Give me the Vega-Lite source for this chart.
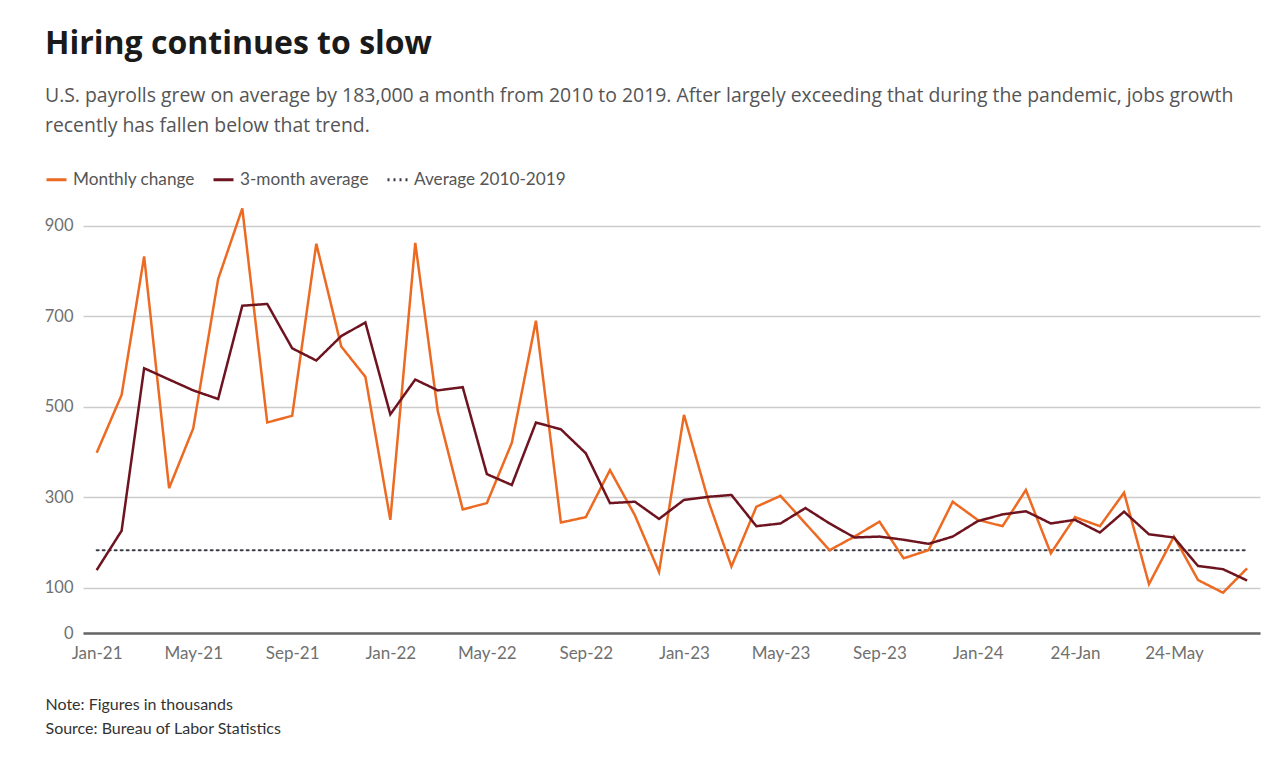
{
  "$schema": "https://vega.github.io/schema/vega-lite/v6.json",
  "width": 1177,
  "height": 430,
  "autosize": {"type": "none"},
  "padding": {"left": 83, "top": 203, "right": 1, "bottom": 145},
  "background": "white",
  "config": {
    "font": "Lato",
    "view": {"stroke": null}
  },
  "title": {
    "text": "Hiring continues to slow",
    "subtitle": ["U.S. payrolls grew on average by 183,000 a month from 2010 to 2019. After largely exceeding that during the pandemic, jobs growth", "recently has fallen below that trend."],
    "anchor": "start",
    "frame": "group",
    "dx": -38,
    "offset": 32,
    "font": "Open Sans",
    "fontSize": 32,
    "fontWeight": "bold",
    "color": "#1a1a1a",
    "subtitleFont": "Open Sans",
    "subtitleFontSize": 19.4,
    "subtitleColor": "#555555",
    "subtitleLineHeight": 30,
    "subtitlePadding": 26
  },
  "datasets": {
    "series": [
      {"date": "2021-01-01", "m": 398, "a": 139},
      {"date": "2021-02-01", "m": 526, "a": 226},
      {"date": "2021-03-01", "m": 832, "a": 585},
      {"date": "2021-04-01", "m": 320, "a": 560},
      {"date": "2021-05-01", "m": 452, "a": 536},
      {"date": "2021-06-01", "m": 782, "a": 517},
      {"date": "2021-07-01", "m": 938, "a": 723},
      {"date": "2021-08-01", "m": 465, "a": 727},
      {"date": "2021-09-01", "m": 480, "a": 629},
      {"date": "2021-10-01", "m": 860, "a": 602},
      {"date": "2021-11-01", "m": 633, "a": 656},
      {"date": "2021-12-01", "m": 566, "a": 686},
      {"date": "2022-01-01", "m": 250, "a": 483},
      {"date": "2022-02-01", "m": 862, "a": 560},
      {"date": "2022-03-01", "m": 490, "a": 536},
      {"date": "2022-04-01", "m": 273, "a": 543},
      {"date": "2022-05-01", "m": 287, "a": 351},
      {"date": "2022-06-01", "m": 420, "a": 327},
      {"date": "2022-07-01", "m": 690, "a": 465},
      {"date": "2022-08-01", "m": 244, "a": 450},
      {"date": "2022-09-01", "m": 256, "a": 397},
      {"date": "2022-10-01", "m": 360, "a": 287},
      {"date": "2022-11-01", "m": 260, "a": 290},
      {"date": "2022-12-01", "m": 135, "a": 252},
      {"date": "2023-01-01", "m": 482, "a": 294},
      {"date": "2023-02-01", "m": 288, "a": 301},
      {"date": "2023-03-01", "m": 147, "a": 305},
      {"date": "2023-04-01", "m": 279, "a": 236},
      {"date": "2023-05-01", "m": 303, "a": 242},
      {"date": "2023-06-01", "m": 242, "a": 276},
      {"date": "2023-07-01", "m": 183, "a": 242},
      {"date": "2023-08-01", "m": 213, "a": 211},
      {"date": "2023-09-01", "m": 246, "a": 213},
      {"date": "2023-10-01", "m": 165, "a": 206},
      {"date": "2023-11-01", "m": 183, "a": 197},
      {"date": "2023-12-01", "m": 290, "a": 213},
      {"date": "2024-01-01", "m": 250, "a": 247},
      {"date": "2024-02-01", "m": 236, "a": 262},
      {"date": "2024-03-01", "m": 316, "a": 269},
      {"date": "2024-04-01", "m": 176, "a": 242},
      {"date": "2024-05-01", "m": 256, "a": 250},
      {"date": "2024-06-01", "m": 236, "a": 222},
      {"date": "2024-07-01", "m": 310, "a": 268},
      {"date": "2024-08-01", "m": 108, "a": 218},
      {"date": "2024-09-01", "m": 213, "a": 211},
      {"date": "2024-10-01", "m": 117, "a": 148},
      {"date": "2024-11-01", "m": 89, "a": 141},
      {"date": "2024-12-01", "m": 143, "a": 116}
    ],
    "avg": [
      {"date": "2021-01-01", "v": 183, "series": "Average 2010-2019"},
      {"date": "2024-12-01", "v": 183, "series": "Average 2010-2019"}
    ]
  },
  "encoding": {
    "x": {
      "field": "date",
      "type": "temporal",
      "scale": {
        "type": "utc",
        "nice": false,
        "domain": [
          {"year": 2020, "month": 12, "date": 15, "utc": true},
          {"year": 2024, "month": 12, "date": 17, "utc": true}
        ]
      },
      "axis": {
        "values": [
          {"year": 2021, "month": 1, "date": 1, "utc": true},
          {"year": 2021, "month": 5, "date": 1, "utc": true},
          {"year": 2021, "month": 9, "date": 1, "utc": true},
          {"year": 2022, "month": 1, "date": 1, "utc": true},
          {"year": 2022, "month": 5, "date": 1, "utc": true},
          {"year": 2022, "month": 9, "date": 1, "utc": true},
          {"year": 2023, "month": 1, "date": 1, "utc": true},
          {"year": 2023, "month": 5, "date": 1, "utc": true},
          {"year": 2023, "month": 9, "date": 1, "utc": true},
          {"year": 2024, "month": 1, "date": 1, "utc": true},
          {"year": 2024, "month": 5, "date": 1, "utc": true},
          {"year": 2024, "month": 9, "date": 1, "utc": true}
        ],
        "labelExpr": "utcFormat(datum.value, '%Y-%m') == '2024-05' ? '24-Jan' : (utcFormat(datum.value, '%Y-%m') == '2024-09' ? '24-May' : utcFormat(datum.value, '%b-%y'))",
        "grid": false,
        "ticks": false,
        "domain": true,
        "domainColor": "#666666",
        "domainWidth": 2.5,
        "labelColor": "#707070",
        "labelFontSize": 17,
        "labelPadding": 12,
        "labelFlush": false,
        "labelOverlap": false,
        "title": ["Note: Figures in thousands", "Source: Bureau of Labor Statistics"],
        "titleAnchor": "start",
        "titleAlign": "left",
        "titleBaseline": "top",
        "titleX": -38,
        "titleY": 63,
        "titleFontSize": 16,
        "titleFontWeight": "normal",
        "titleColor": "#333333",
        "titleLineHeight": 24
      }
    }
  },
  "layer": [
    {
      "data": {"name": "avg"},
      "mark": {"type": "line", "strokeWidth": 2, "strokeCap": "round"},
      "encoding": {
        "y": {"field": "v", "type": "quantitative"},
        "color": {"field": "series", "type": "nominal"},
        "strokeDash": {"field": "series", "type": "nominal"}
      }
    },
    {
      "data": {"name": "series"},
      "transform": [{"calculate": "'Monthly change'", "as": "series"}],
      "mark": {"type": "line", "strokeWidth": 2.5, "strokeJoin": "miter"},
      "encoding": {
        "y": {"field": "m", "type": "quantitative"},
        "color": {"field": "series", "type": "nominal"},
        "strokeDash": {"field": "series", "type": "nominal"}
      }
    },
    {
      "data": {"name": "series"},
      "transform": [{"calculate": "'3-month average'", "as": "series"}],
      "mark": {"type": "line", "strokeWidth": 2.5, "strokeJoin": "miter"},
      "encoding": {
        "y": {
          "field": "a",
          "type": "quantitative",
          "scale": {"domain": [0, 950], "nice": false},
          "axis": {
            "title": null,
            "values": [0, 100, 300, 500, 700, 900],
            "domain": false,
            "ticks": false,
            "grid": true,
            "gridColor": "#cccccc",
            "gridWidth": 1.5,
            "labelColor": "#707070",
            "labelFontSize": 16.5,
            "labelPadding": 10
          }
        },
        "color": {
          "field": "series",
          "type": "nominal",
          "scale": {
            "domain": ["Monthly change", "3-month average", "Average 2010-2019"],
            "range": ["#ec6a22", "#6e1420", "#3c3c48"]
          },
          "legend": {
            "title": null,
            "orient": "none",
            "direction": "horizontal",
            "legendX": -38,
            "legendY": -35,
            "symbolType": "stroke",
            "symbolSize": 400,
            "symbolStrokeWidth": 3,
            "labelFontSize": 17.2,
            "labelColor": "#555555",
            "labelOffset": 5,
            "columnPadding": 12
          }
        },
        "strokeDash": {
          "field": "series",
          "type": "nominal",
          "scale": {
            "domain": ["Monthly change", "3-month average", "Average 2010-2019"],
            "range": [[1, 0], [1, 0], [2, 4]]
          },
          "legend": {
            "title": null,
            "orient": "none",
            "direction": "horizontal",
            "legendX": -38,
            "legendY": -35,
            "symbolType": "stroke",
            "symbolSize": 400,
            "symbolStrokeWidth": 3,
            "labelFontSize": 17.2,
            "labelColor": "#555555",
            "labelOffset": 5,
            "columnPadding": 12
          }
        }
      }
    }
  ]
}
